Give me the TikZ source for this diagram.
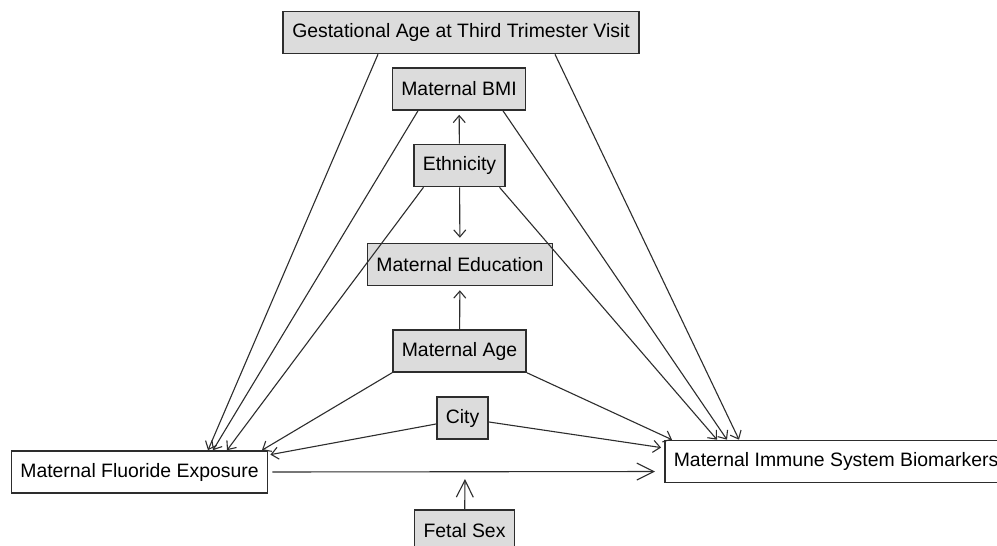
\documentclass[tikz,border=0pt]{standalone}
\usepackage{fontspec}
\setmainfont{Liberation Sans}
\usetikzlibrary{arrows.meta}
\definecolor{boxgray}{RGB}{220,220,220}
\definecolor{inkgray}{RGB}{45,45,45}

\begin{document}
\begin{tikzpicture}[->,>={Straight Barb[length=7pt,width=12pt]},x=1pt,y=-1pt,
    every edge/.style={draw=inkgray,line width=1.1pt},
    var node/.style={rectangle,draw=inkgray,line width=1.6pt,fill=boxgray,minimum height=42pt,inner xsep=9pt,font=\fontsize{19.4}{23}\selectfont},
    key node/.style={var node,fill=white},
    big arrow/.style={>={Straight Barb[length=17pt,width=17pt]}}]
    \clip (0,0) rectangle (997,546);
    \fill[white] (0,0) rectangle (997,546);
    \node[var node] (gest) at (461,32.5) {Gestational Age at Third Trimester Visit};
    \node[var node] (bmi) at (459,89) {Maternal BMI};
    \node[var node] (eth) at (459.5,165.5) {Ethnicity};
    \node[var node] (edu) at (460,264.5) {Maternal Education};
    \node[var node] (age) at (459.5,351) {Maternal Age};
    \node[var node] (city) at (462.5,418) {City};
    \node[key node] (fluor) at (139.5,472) {Maternal Fluoride Exposure};
    \node[key node,anchor=west] (bio) at (664,461.5) {Maternal Immune System Biomarkers};
    \node[var node,anchor=north] (sex) at (464.5,509) {Fetal Sex};
    \coordinate (hit) at (465,479);
    \path
    ([xshift=-83pt]gest.south) edge ([xshift=68.5pt]fluor.north)
    ([xshift=94pt]gest.south) edge ([xshift=75pt]bio.north west)
    ([xshift=-41pt]bmi.south) edge ([xshift=73.5pt]fluor.north)
    ([xshift=44pt]bmi.south) edge ([xshift=63pt]bio.north west)
    (eth) edge[shorten >=4pt] (bmi)
    (eth) edge[shorten >=5pt] (edu)
    ([xshift=-36pt]eth.south) edge ([xshift=87.5pt]fluor.north)
    ([xshift=40pt]eth.south) edge ([xshift=53pt]bio.north west)
    (age) edge[shorten >=4pt] (edu)
    (age.south west) edge ([xshift=122.5pt]fluor.north)
    (age.south east) edge ([xshift=8pt]bio.north west)
    ([yshift=-6pt]city.west) edge[shorten >=2pt] ([yshift=17pt]fluor.east)
    ([yshift=-4pt]city.east) edge[shorten >=3pt] ([yshift=13.5pt]bio.west)
    (fluor.east) edge[big arrow,shorten <=4pt,shorten >=9pt] ([yshift=-10pt]bio.west)
    (sex) edge[big arrow] (hit);
\end{tikzpicture}
\end{document}
